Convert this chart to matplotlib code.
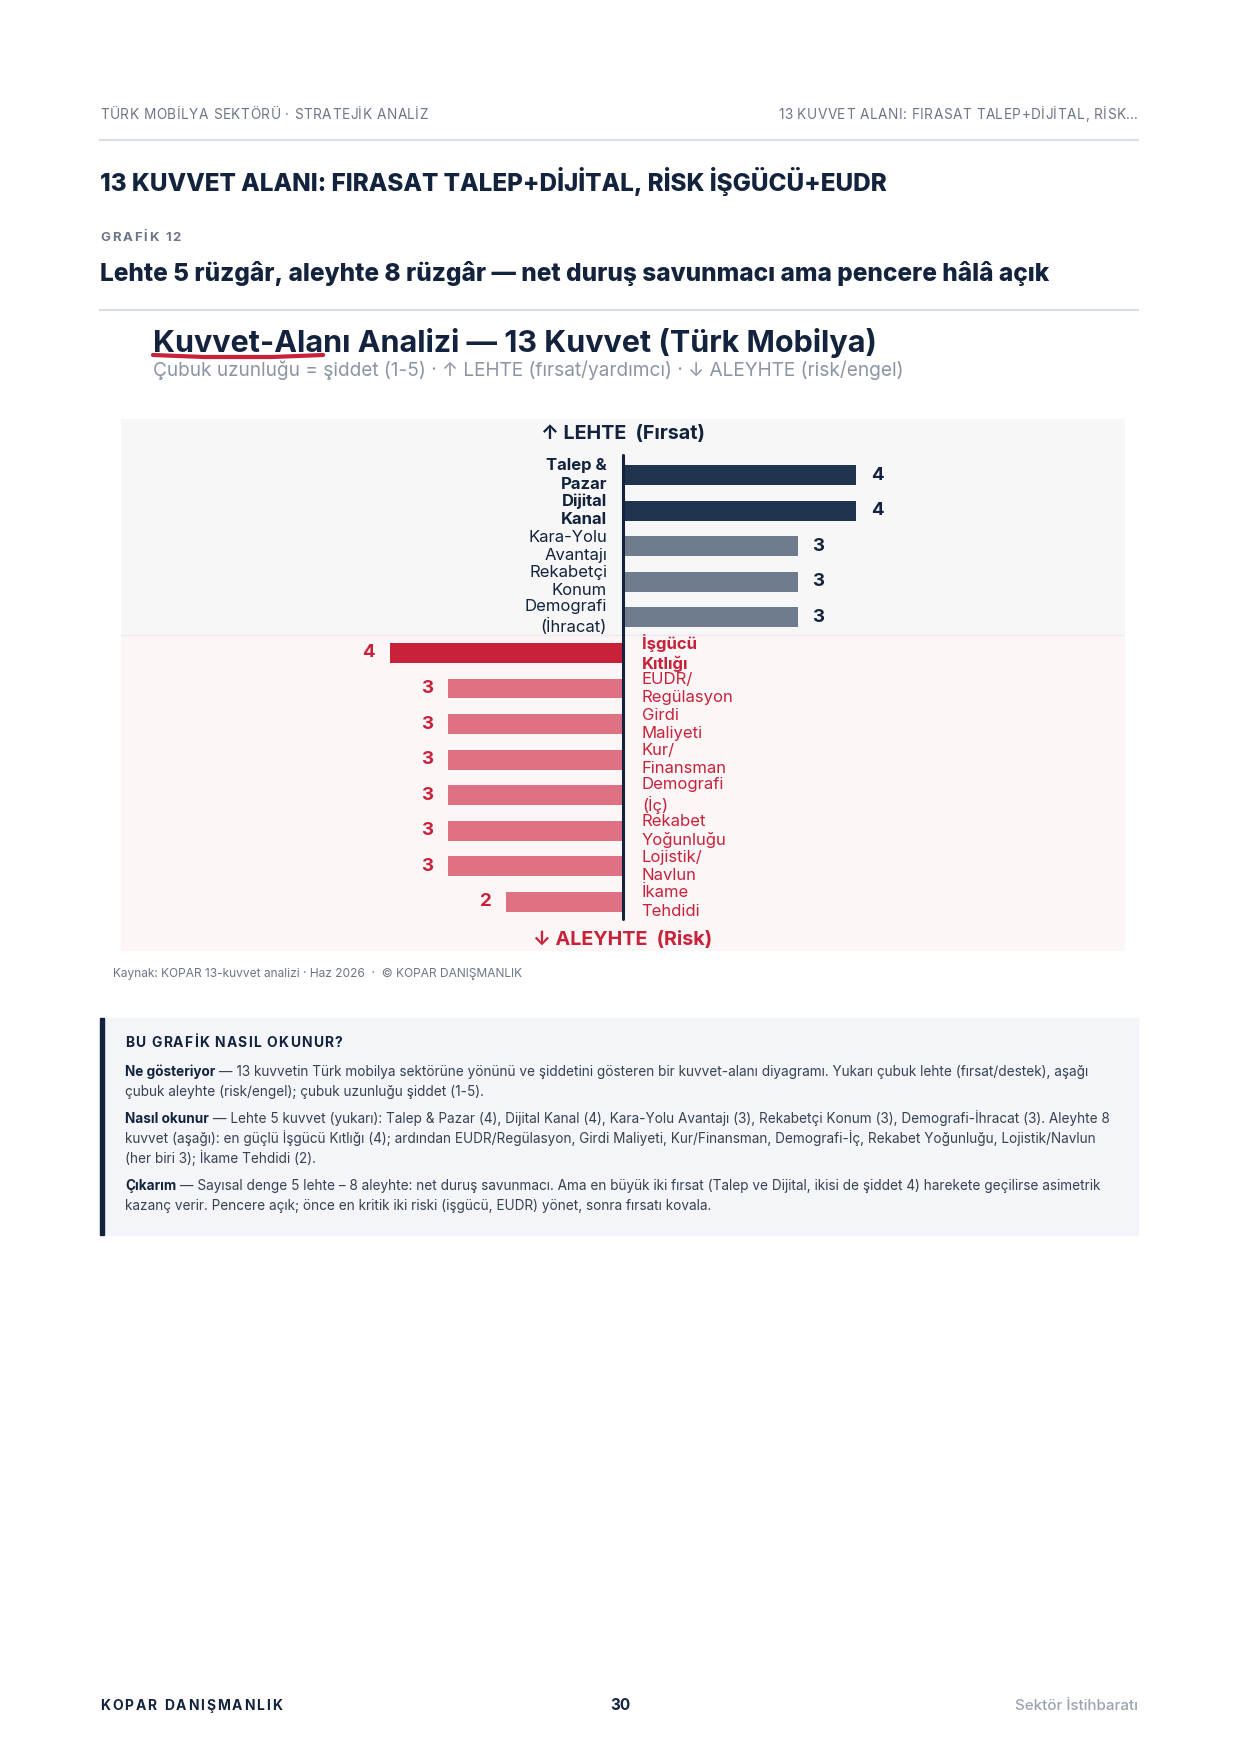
import matplotlib
matplotlib.use("Agg")
import matplotlib.pyplot as plt
import numpy as np

plt.rcParams['font.family'] = ['Inter', 'DejaVu Sans']

# ---------------- data ----------------
lehte_labels = ["Talep &\nPazar", "Dijital\nKanal", "Kara-Yolu\nAvantajı", "Rekabetçi\nKonum", "Demografi\n(İhracat)"]
lehte_values = [4, 4, 3, 3, 3]
aleyhte_labels = ["İşgücü\nKıtlığı", "EUDR/\nRegülasyon", "Girdi\nMaliyeti", "Kur/\nFinansman",
                  "Demografi\n(İç)", "Rekabet\nYoğunluğu", "Lojistik/\nNavlun", "İkame\nTehdidi"]
aleyhte_values = [4, 3, 3, 3, 3, 3, 3, 2]

# ---------------- colours ----------------
NAVY = '#13233d'
GRAY = '#6b7686'
LIGHTGRAY = '#8b95a3'
RULE = '#d9dee5'
RED = '#c8223b'
BAR_DARK = '#20344f'
BAR_GREY = '#6e7c8e'
BAR_RED = '#c8223b'
BAR_LRED = '#de7282'
BODY = '#374151'

W, H = 1240, 1754
fig = plt.figure(figsize=(W / 100, H / 100), dpi=100)
page = fig.add_axes([0, 0, 1, 1])
page.set_xlim(0, W)
page.set_ylim(H, 0)
page.axis('off')
renderer = fig.canvas.get_renderer()


def width_of(s, size, weight='normal'):
    t = page.text(0, 0, s, fontsize=size, fontweight=weight)
    w = t.get_window_extent(renderer).width
    t.remove()
    return w


def fit_size(s, target, weight='normal', ref=10.0):
    return ref * target / width_of(s, ref, weight)


def fitted(x, y, s, target, weight='normal', color=NAVY, ha='left'):
    size = fit_size(s, target, weight)
    page.text(x, y, s, fontsize=size, fontweight=weight, color=color, va='baseline', ha=ha)
    return size


def advance(ch, size, weight):
    return width_of("|" + ch + "|", size, weight) - width_of("||", size, weight)


def tracked(x, y, s, size, target, weight='normal', color=NAVY, ha='left'):
    advs = [advance(c, size, weight) for c in s]
    natural = sum(advs)
    tr = (target - natural) / (len(s) - 1)
    total = target
    if ha == 'right':
        x -= total
    elif ha == 'center':
        x -= total / 2
    for c, a in zip(s, advs):
        if c != ' ':
            page.text(x, y, c, fontsize=size, fontweight=weight, color=color,
                      va='baseline', ha='left')
        x += a + tr


def runs(x, y, parts, size):
    for txt, weight, color in parts:
        t = page.text(x, y, txt, fontsize=size, fontweight=weight, color=color,
                      va='baseline', ha='left')
        x += t.get_window_extent(renderer).width


# ---------------- header ----------------
tracked(100, 119, "TÜRK MOBİLYA SEKTÖRÜ · STRATEJİK ANALİZ", 9.8, 328, color=GRAY)
tracked(1138, 119, "13 KUVVET ALANI: FIRASAT TALEP+DİJİTAL, RİSK…", 9.8, 360, color=GRAY, ha='right')
page.plot([100, 1138], [140, 140], color=RULE, lw=1.5)

fitted(100, 191, "13 KUVVET ALANI: FIRASAT TALEP+DİJİTAL, RİSK İŞGÜCÜ+EUDR", 788, 800)
tracked(100, 241, "GRAFİK 12", 9.5, 81, weight='bold', color=GRAY)
fitted(100, 281, "Lehte 5 rüzgâr, aleyhte 8 rüzgâr — net duruş savunmacı ama pencere hâlâ açık",
       947, 800)
page.plot([100, 1138], [310, 310], color=RULE, lw=1.5)

# chart title
ct = "Kuvvet-Alanı Analizi — 13 Kuvvet (Türk Mobilya)"
cts = fitted(153, 352, ct, 725, 'bold')
ul = width_of("Kuvvet-Ala", cts, 'bold')
page.plot([153, 153 + ul * 0.3, 153 + ul * 0.7, 153 + ul], [355, 357, 357, 355], color=RED,
          lw=3, solid_capstyle='round')
fitted(153, 376, "Çubuk uzunluğu = şiddet (1-5) · ↑ LEHTE (fırsat/yardımcı) · ↓ ALEYHTE (risk/engel)",
       753, 'normal', color=LIGHTGRAY)

# ---------------- chart ----------------
px_left, px_right, px_top, px_bot = 121, 1125, 419, 951
ax = fig.add_axes([px_left / W, 1 - px_bot / H, (px_right - px_left) / W, (px_bot - px_top) / H])
zero_px = 623
unit = 58.3
row = 35.58
first_row = 475
ax.set_xlim(-(zero_px - px_left) / unit, (px_right - zero_px) / unit)
ax.set_ylim((px_bot - first_row) / row, -(first_row - px_top) / row)
ax.axis('off')

n_l = len(lehte_values)
n_a = len(aleyhte_values)
ax.axhspan(-10, n_l - 0.5, color='#f7f7f8', zorder=0)
ax.axhspan(n_l - 0.5, 30, color='#fcf6f7', zorder=0)
ax.axhline(n_l - 0.5, color='#f1e9eb', lw=1, zorder=0.5)

y_l = np.arange(n_l)
y_a = np.arange(n_l, n_l + n_a)
col_l = [BAR_DARK if v == max(lehte_values) else BAR_GREY for v in lehte_values]
col_a = [BAR_RED if v == max(aleyhte_values) else BAR_LRED for v in aleyhte_values]
ax.barh(y_l, lehte_values, height=0.56, color=col_l, zorder=2)
ax.barh(y_a, [-v for v in aleyhte_values], height=0.56, color=col_a, zorder=2)
ax.plot([0, 0], [-0.55, n_l + n_a - 0.52], color=NAVY, lw=2.2, zorder=3, solid_capstyle='round')

LAB = 12
LSP = 1.26
for yy, v, lab in zip(y_l, lehte_values, lehte_labels):
    strong = v == max(lehte_values)
    ax.annotate(str(v), (v, yy), xytext=(10.5, 0), textcoords='offset points', ha='left',
                va='center', fontsize=13.5, fontweight='bold', color=NAVY)
    ax.annotate(lab, (0, yy), xytext=(-11.5, 0), textcoords='offset points', ha='right',
                va='center', fontsize=LAB, fontweight='bold' if strong else 'normal',
                color=NAVY, linespacing=LSP)
for yy, v, lab in zip(y_a, aleyhte_values, aleyhte_labels):
    strong = v == max(aleyhte_values)
    ax.annotate(str(v), (-v, yy), xytext=(-10.5, 0), textcoords='offset points', ha='right',
                va='center', fontsize=13.5, fontweight='bold', color=RED)
    ax.annotate(lab, (0, yy), xytext=(13.5, 0), textcoords='offset points', ha='left',
                va='center', fontsize=LAB, fontweight='bold' if strong else 'normal',
                color=RED, linespacing=LSP)

ls = fit_size("↑ LEHTE  (Fırsat)", 165, 'bold')
ax.text(0, -1.15, "↑ LEHTE  (Fırsat)", ha='center', va='center', fontsize=ls,
        fontweight='bold', color=NAVY)
ax.text(0, n_l + n_a + 0.08, "↓ ALEYHTE  (Risk)", ha='center', va='center', fontsize=ls,
        fontweight='bold', color=RED)

fitted(113, 977, "Kaynak: KOPAR 13-kuvvet analizi · Haz 2026  ·  © KOPAR DANIŞMANLIK", 412,
       color=GRAY)

# ---------------- info box ----------------
page.add_patch(plt.Rectangle((100, 1018), 1038, 217, color='#f3f5f9', zorder=0))
page.add_patch(plt.Rectangle((100, 1018), 4, 217, color=NAVY, zorder=1))
tracked(125, 1047, "BU GRAFİK NASIL OKUNUR?", 10, 217, weight='bold', color=NAVY)

l1b = "Ne gösteriyor"
l1r = " — 13 kuvvetin Türk mobilya sektörüne yönünü ve şiddetini gösteren bir kuvvet-alanı diyagramı. Yukarı çubuk lehte (fırsat/destek), aşağı"
w10 = width_of(l1b, 10, 'bold') + width_of(l1r, 10)
fs = 10 * 966 / w10
runs(125, 1076, [(l1b, 'bold', NAVY), (l1r, 'normal', BODY)], fs)
runs(125, 1096, [("çubuk aleyhte (risk/engel); çubuk uzunluğu şiddet (1-5).", 'normal', BODY)], fs)
runs(125, 1123, [("Nasıl okunur", 'bold', NAVY),
                 (" — Lehte 5 kuvvet (yukarı): Talep & Pazar (4), Dijital Kanal (4), Kara-Yolu Avantajı (3), Rekabetçi Konum (3), Demografi-İhracat (3). Aleyhte 8", 'normal', BODY)], fs)
runs(125, 1143, [("kuvvet (aşağı): en güçlü İşgücü Kıtlığı (4); ardından EUDR/Regülasyon, Girdi Maliyeti, Kur/Finansman, Demografi-İç, Rekabet Yoğunluğu, Lojistik/Navlun", 'normal', BODY)], fs)
runs(125, 1163, [("(her biri 3); İkame Tehdidi (2).", 'normal', BODY)], fs)
runs(125, 1190, [("Çıkarım", 'bold', NAVY),
                 (" — Sayısal denge 5 lehte – 8 aleyhte: net duruş savunmacı. Ama en büyük iki fırsat (Talep ve Dijital, ikisi de şiddet 4) harekete geçilirse asimetrik", 'normal', BODY)], fs)
runs(125, 1210, [("kazanç verir. Pencere açık; önce en kritik iki riski (işgücü, EUDR) yönet, sonra fırsatı kovala.", 'normal', BODY)], fs)

# ---------------- footer ----------------
tracked(100, 1710, "KOPAR DANIŞMANLIK", 10, 182, weight='bold', color=NAVY)
page.text(620, 1710, "30", fontsize=11, fontweight='bold', color=NAVY, va='baseline', ha='center')
fitted(1138, 1710, "Sektör İstihbaratı", 123, 'medium', color='#9aa3b0', ha='right')

fig.savefig("out.png", dpi=100)
